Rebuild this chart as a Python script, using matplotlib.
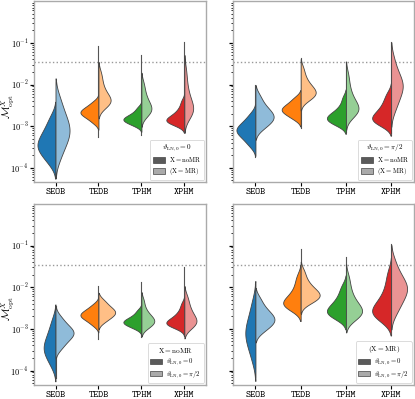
import numpy as np
import matplotlib
matplotlib.use("Agg")
import matplotlib.pyplot as plt
from matplotlib.patches import Patch

plt.rcParams["mathtext.fontset"] = "cm"
plt.rcParams["font.family"] = "serif"
plt.rcParams["font.serif"] = ["cmr10", "DejaVu Serif"]
plt.rcParams["axes.formatter.use_mathtext"] = True

models = ["SEOB", "TEDB", "TPHM", "XPHM"]
threshold = 0.035

# log10 of the optimal mismatch: bulk of each distribution (one list per model)
noMR_th0 = [
    [-3.92, -3.8, -3.71, -3.64, -3.58, -3.53, -3.48, -3.43, -3.38, -3.32, -3.26, -3.19, -3.11, -3.02, -2.9, -2.75],
    [-2.93, -2.86, -2.81, -2.77, -2.74, -2.71, -2.69, -2.67, -2.64, -2.62, -2.59, -2.56, -2.52, -2.47, -2.4],
    [-3.0, -2.95, -2.92, -2.89, -2.87, -2.85, -2.83, -2.81, -2.79, -2.76, -2.73, -2.69, -2.63, -2.55],
    [-2.98, -2.94, -2.91, -2.89, -2.87, -2.85, -2.83, -2.8, -2.77, -2.73, -2.68, -2.62, -2.53, -2.4],
]
noMR_pi2 = [
    [-3.48, -3.38, -3.3, -3.24, -3.19, -3.15, -3.11, -3.08, -3.04, -3.0, -2.95, -2.89, -2.81, -2.7],
    [-2.84, -2.77, -2.72, -2.68, -2.65, -2.62, -2.59, -2.56, -2.53, -2.49, -2.44, -2.38, -2.3],
    [-2.98, -2.93, -2.89, -2.86, -2.83, -2.8, -2.77, -2.74, -2.7, -2.65, -2.58, -2.48, -2.32],
    [-2.98, -2.93, -2.89, -2.85, -2.82, -2.78, -2.74, -2.69, -2.63, -2.56, -2.47, -2.36, -2.22],
]
MR_th0 = [
    [-3.82, -3.64, -3.52, -3.42, -3.34, -3.27, -3.2, -3.14, -3.08, -3.02, -2.95, -2.88, -2.8, -2.71, -2.6, -2.46, -2.28],
    [-2.55, -2.5, -2.46, -2.43, -2.4, -2.37, -2.33, -2.29, -2.24, -2.18, -2.1, -2.0, -1.87, -1.72],
    [-2.76, -2.7, -2.66, -2.62, -2.59, -2.55, -2.51, -2.46, -2.4, -2.33, -2.24, -2.12, -1.97],
    [-2.8, -2.73, -2.68, -2.64, -2.6, -2.56, -2.51, -2.45, -2.38, -2.3, -2.2, -2.06, -1.88, -1.65],
]
MR_pi2 = [
    [-3.08, -2.99, -2.93, -2.88, -2.84, -2.8, -2.76, -2.72, -2.68, -2.63, -2.57, -2.5, -2.4, -2.26],
    [-2.39, -2.33, -2.29, -2.25, -2.22, -2.19, -2.16, -2.12, -2.08, -2.03, -1.97, -1.89, -1.78, -1.62],
    [-2.77, -2.71, -2.67, -2.63, -2.6, -2.56, -2.52, -2.47, -2.41, -2.34, -2.25, -2.13, -1.97, -1.76],
    [-2.65, -2.5, -2.4, -2.31, -2.24, -2.17, -2.11, -2.06, -2.01, -1.96, -1.9, -1.84, -1.76, -1.67, -1.55, -1.35],
]

# log10 extremes (lowest, highest) of each distribution
noMR_th0_range = [(-4.17, -2.45), (-3.25, -2.3), (-3.2, -2.35), (-3.05, -2.2)]
noMR_pi2_range = [(-3.73, -2.45), (-3.05, -1.96), (-3.15, -1.88), (-3.17, -1.52)]
MR_th0_range = [(-4.15, -1.93), (-2.65, -1.08), (-2.95, -1.28), (-3.0, -0.97)]
MR_pi2_range = [(-3.3, -2.02), (-2.5, -1.37), (-2.9, -1.45), (-3.0, -0.97)]

dark = ["#1f77b4", "#ff7f0e", "#2ca02c", "#d62728"]
light = ["#8fbbd9", "#ffbf86", "#95cf95", "#ea9393"]


def kde(vals, bw_adjust=0.9, cut=2.0, n=300):
    vals = np.asarray(vals)
    bw = vals.std(ddof=1) * len(vals) ** (-0.2) * bw_adjust
    grid = np.linspace(vals.min() - cut * bw, vals.max() + cut * bw, n)
    dens = np.exp(-0.5 * ((grid[:, None] - vals[None, :]) / bw) ** 2).sum(1)
    dens /= len(vals) * bw * np.sqrt(2 * np.pi)
    return grid, dens


def split_violins(ax, left_data, right_data, left_rng, right_rng):
    for i in range(len(models)):
        lo = min(left_rng[i][0], right_rng[i][0])
        hi = max(left_rng[i][1], right_rng[i][1])
        ax.plot([i, i], [10 ** lo, 10 ** hi], color="#555555", linewidth=0.8, zorder=1.5)
        gl, dl = kde(left_data[i])
        gr, dr = kde(right_data[i])
        scale = 0.42 / max(dl.max(), dr.max())
        ax.fill_betweenx(10 ** gl, i - dl * scale, i, facecolor=dark[i],
                         edgecolor="#444444", linewidth=0.6, zorder=2)
        ax.fill_betweenx(10 ** gr, i, i + dr * scale, facecolor=light[i],
                         edgecolor="#444444", linewidth=0.6, zorder=2)


fig = plt.figure(figsize=(4.15, 3.99), dpi=100)
boxes = [
    [0.082, 0.544, 0.414, 0.453],
    [0.561, 0.544, 0.436, 0.453],
    [0.082, 0.036, 0.414, 0.453],
    [0.561, 0.036, 0.436, 0.453],
]
pairs = [(noMR_th0, MR_th0), (noMR_pi2, MR_pi2), (noMR_th0, noMR_pi2), (MR_th0, MR_pi2)]
ranges = [(noMR_th0_range, MR_th0_range), (noMR_pi2_range, MR_pi2_range),
          (noMR_th0_range, noMR_pi2_range), (MR_th0_range, MR_pi2_range)]
titles = [r"$\vartheta_{\rm LN,0}=0$", r"$\vartheta_{\rm LN,0}=\pi/2$",
          r"$\mathrm{X{=}noMR}$", r"$\mathrm{(X{=}MR)}$"]
labels = [
    [r"$\mathrm{X{=}noMR}$", r"$\mathrm{(X{=}MR)}$"],
    [r"$\mathrm{X{=}noMR}$", r"$\mathrm{(X{=}MR)}$"],
    [r"$\vartheta_{\rm LN,0}=0$", r"$\vartheta_{\rm LN,0}=\pi/2$"],
    [r"$\vartheta_{\rm LN,0}=0$", r"$\vartheta_{\rm LN,0}=\pi/2$"],
]

for k in range(4):
    ax = fig.add_axes(boxes[k])
    split_violins(ax, pairs[k][0], pairs[k][1], ranges[k][0], ranges[k][1])
    ax.set_yscale("log")
    ax.set_ylim(4.6e-5, 1.0)
    ax.set_xlim(-0.5, 3.5)
    ax.axhline(threshold, color="#999999", linestyle=":", linewidth=1.0, zorder=1)

    ax.set_xticks(range(len(models)))
    ax.set_xticklabels(models, fontsize=7, fontfamily="cmtt10")
    ax.tick_params(axis="x", length=3, width=0.8, pad=1.5)
    ax.tick_params(axis="y", which="major", length=3, width=0.9, labelsize=6, pad=1)
    ax.tick_params(axis="y", which="minor", length=1.5, width=0.6)
    ax.set_yticks([1e-4, 1e-3, 1e-2, 1e-1])
    if k % 2 == 0:
        ax.set_ylabel(r"$\mathcal{M}^{X}_{\rm opt}$", fontsize=7.5)
        ax.yaxis.set_label_coords(-0.105, 0.42)
    else:
        ax.set_yticklabels([])
    for s in ax.spines.values():
        s.set_color("#aaaaaa")
        s.set_linewidth(1.0)

    handles = [Patch(facecolor="#5a5a5a", edgecolor="#444444", linewidth=0.5),
               Patch(facecolor="#aaaaaa", edgecolor="#444444", linewidth=0.5)]
    leg = ax.legend(handles, labels[k], title=titles[k], loc="lower right",
                    fontsize=4.8, title_fontsize=5.2, frameon=True,
                    handlelength=1.8, handleheight=0.8, borderpad=0.4,
                    labelspacing=0.3, handletextpad=0.6, borderaxespad=0.3)
    leg.get_frame().set_edgecolor("#cccccc")
    leg.get_frame().set_linewidth(0.6)

fig.savefig("out.png", dpi=100)
